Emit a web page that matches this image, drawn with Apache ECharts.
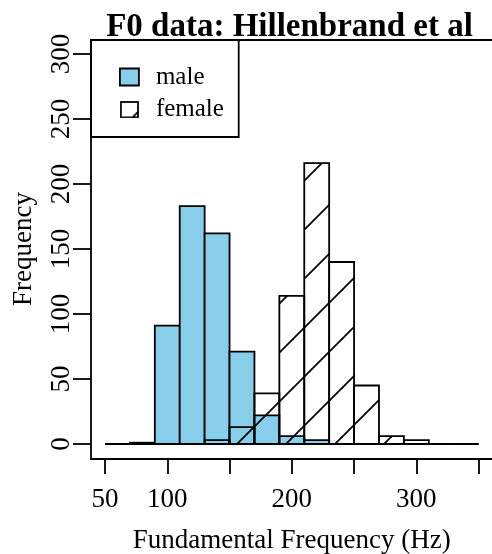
<!DOCTYPE html>
<html>
<head>
<meta charset="utf-8">
<script src="https://cdn.jsdelivr.net/npm/echarts@6/dist/echarts.min.js"></script>
<style>
  html, body { margin: 0; padding: 0; background: #fff; }
  #chart { width: 492px; height: 554px; }
</style>
</head>
<body>
<div id="chart"></div>
<script>
// histogram bins, 20 Hz wide
var binStarts = [50, 70, 90, 110, 130, 150, 170, 190, 210, 230, 250, 270, 290, 310, 330];
var binWidth = 20;
var maleCounts = [0, 1, 91, 183, 162, 71, 22, 6, 3, 0, 0, 0, 0, 0, 0];
var femaleCounts = [0, 0, 0, 0, 3, 13, 39, 114, 216, 140, 45, 6, 3, 0, 0];
var xTickLabels = ['50', '100', '', '200', '', '300', ''];
var yTickLabels = ['0', '50', '100', '150', '200', '250', '300'];

var serif = 'Liberation Serif';

// diagonal hatch for the female bars
var hatch = document.createElement('canvas');
hatch.width = 49;
hatch.height = 49;
var hctx = hatch.getContext('2d');
hctx.strokeStyle = '#000';
hctx.lineWidth = 1.8;
[-5, 44, 93].forEach(function (c) {
  hctx.beginPath();
  hctx.moveTo(-10, c + 10);
  hctx.lineTo(c + 10, -10);
  hctx.stroke();
});
var hatchFill = { image: hatch, repeat: 'repeat' };

// legend key for female: white box, hatch only catches the corner
var key = document.createElement('canvas');
key.width = 21;
key.height = 19;
var kctx = key.getContext('2d');
kctx.fillStyle = '#fff';
kctx.fillRect(1, 1, 19, 17);
kctx.strokeStyle = '#000';
kctx.lineWidth = 1.8;
kctx.beginPath();
kctx.moveTo(14, 18);
kctx.lineTo(20, 12);
kctx.stroke();
kctx.strokeRect(1, 1, 19, 17);

function toBins(counts) {
  return binStarts.map(function (lo, i) {
    return [lo, lo + binWidth, counts[i]];
  });
}

function histRender(fill) {
  return function (params, api) {
    var p0 = api.coord([api.value(0), api.value(2)]);
    var p1 = api.coord([api.value(1), 0]);
    return {
      type: 'rect',
      shape: { x: p0[0], y: p0[1], width: p1[0] - p0[0], height: p1[1] - p0[1] },
      style: { fill: fill, stroke: '#000', lineWidth: 1.8 }
    };
  };
}

function hiddenAxis(gridIndex, min, max) {
  return {
    gridIndex: gridIndex, type: 'value', min: min, max: max,
    axisLine: { show: false }, axisTick: { show: false },
    axisLabel: { show: false }, splitLine: { show: false }
  };
}

var myChart = echarts.init(document.getElementById('chart'));
var option = {
  animation: false,
  title: {
    text: 'F0 data: Hillenbrand et al',
    left: 284.5,
    textAlign: 'center',
    top: 6,
    textStyle: { fontFamily: serif, fontWeight: 'bold', fontSize: 33, color: '#000' }
  },
  legend: {
    orient: 'vertical',
    left: 114,
    top: 58.5,
    itemWidth: 19,
    itemHeight: 17,
    itemGap: 5.7,
    selectedMode: false,
    textStyle: { fontFamily: serif, fontSize: 25, color: '#000', lineHeight: 27, padding: [0, 0, 0, 12] },
    data: [
      { name: 'male', icon: 'rect', itemStyle: { color: '#87CEEB', borderColor: '#000', borderWidth: 1.8 } },
      { name: 'female', icon: 'image://' + key.toDataURL() }
    ]
  },
  graphic: [{
    type: 'rect',
    shape: { x: 91, y: 40, width: 147.7, height: 97 },
    style: { fill: 'none', stroke: '#000', lineWidth: 1.8 }
  }],
  grid: [
    // plot box
    { left: 91, top: 40, width: 403, height: 419, show: true, borderColor: '#000', borderWidth: 1.8, outerBoundsMode: 'none' },
    // data area
    { left: 105, top: 54, width: 373.6, height: 390, outerBoundsMode: 'none' },
    // x ticks sit on the box's bottom edge
    { left: 105, top: 54, width: 373.6, height: 405, outerBoundsMode: 'none' },
    // y ticks sit on the box's left edge
    { left: 91, top: 54, width: 387.6, height: 390, outerBoundsMode: 'none' }
  ],
  xAxis: [
    hiddenAxis(0, 0, 1),
    hiddenAxis(1, 50, 350),
    {
      gridIndex: 2, type: 'value', min: 50, max: 350, interval: 50,
      axisLine: { show: false },
      axisTick: { show: true, length: 15, lineStyle: { color: '#000', width: 1.8 } },
      splitLine: { show: false },
      axisLabel: {
        margin: 27, fontFamily: serif, fontSize: 27, color: '#000',
        formatter: function (v) { return xTickLabels[(v - 50) / 50]; }
      },
      name: 'Fundamental Frequency (Hz)',
      nameLocation: 'middle',
      nameGap: 68,
      nameTextStyle: { fontFamily: serif, fontSize: 27, color: '#000' }
    },
    hiddenAxis(3, 0, 1)
  ],
  yAxis: [
    hiddenAxis(0, 0, 1),
    hiddenAxis(1, 0, 300),
    hiddenAxis(2, 0, 1),
    {
      gridIndex: 3, type: 'value', min: 0, max: 300, interval: 50,
      axisLine: { show: false },
      axisTick: { show: true, length: 18, lineStyle: { color: '#000', width: 1.8 } },
      splitLine: { show: false },
      axisLabel: {
        rotate: 90, margin: 16, fontFamily: serif, fontSize: 27, color: '#000',
        formatter: function (v) { return yTickLabels[v / 50]; }
      },
      name: 'Frequency',
      nameLocation: 'middle',
      nameGap: 54,
      nameTextStyle: { fontFamily: serif, fontSize: 27, color: '#000' }
    }
  ],
  series: [
    {
      name: 'male',
      type: 'custom',
      xAxisIndex: 1,
      yAxisIndex: 1,
      renderItem: histRender('#87CEEB'),
      itemStyle: { color: '#87CEEB' },
      data: toBins(maleCounts)
    },
    {
      name: 'female',
      type: 'custom',
      xAxisIndex: 1,
      yAxisIndex: 1,
      renderItem: histRender(hatchFill),
      itemStyle: { color: '#fff' },
      data: toBins(femaleCounts)
    }
  ]
};
if (option && typeof option === "object") {
  myChart.setOption(option, true);
}
</script>
</body>
</html>
